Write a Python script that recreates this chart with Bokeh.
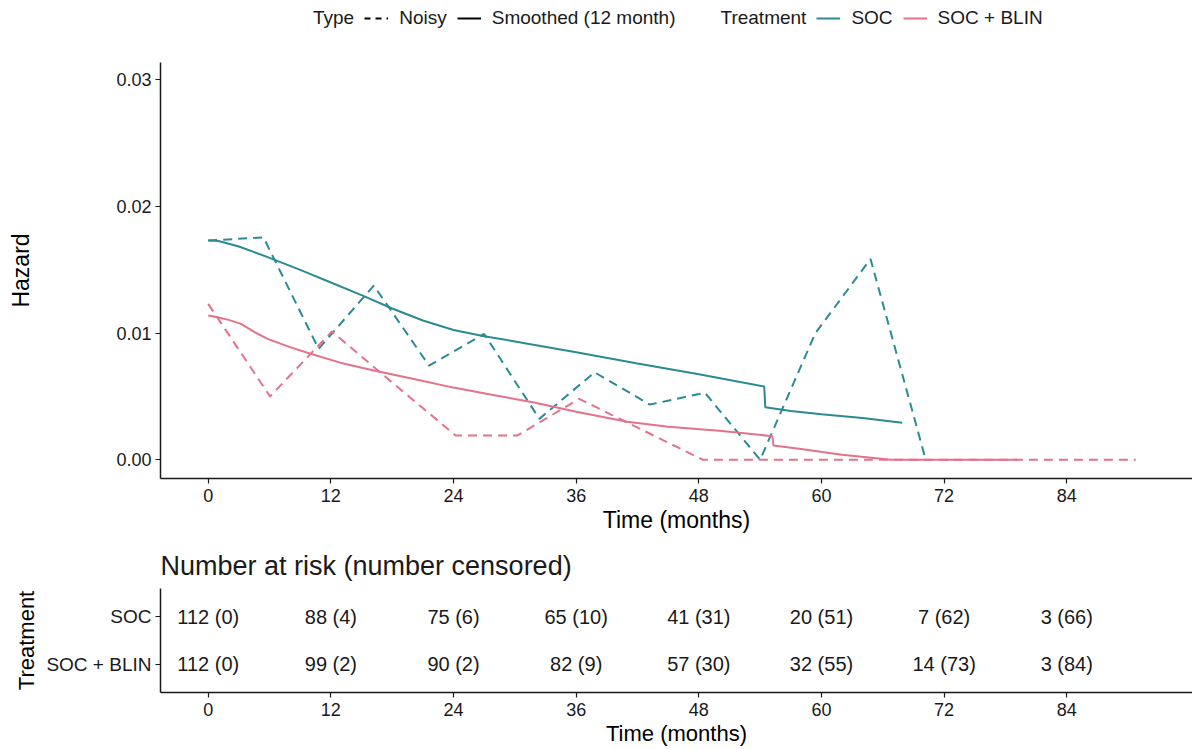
from bokeh.plotting import figure
from bokeh.models import Range1d, FixedTicker, Legend, LegendItem, FactorRange, NumeralTickFormatter
from bokeh.layouts import column
from bokeh.embed import file_html
from bokeh.resources import INLINE
from bokeh.core.properties import value

FONT = "Liberation Sans"
TEAL = "#2B8A92"
PINK = "#E3728A"
INK = "#1A1A1A"

# ---------------- data ----------------
treatments = ["SOC", "SOC + BLIN"]

soc_noisy_t = [0, 5.4, 10.8, 16.2, 21.6, 27.0, 32.4, 37.8, 43.2, 48.6, 54.0, 59.4, 64.8, 70.2]
soc_noisy_h = [0.01731, 0.01757, 0.00876, 0.01376, 0.00744, 0.00994, 0.00323, 0.00691,
               0.00436, 0.00529, 0.0, 0.0100, 0.01586, 0.0]

blin_noisy_t = [0, 6.05, 12.1, 18.15, 24.2, 30.25, 36.3, 42.35, 48.4, 54.45, 60.5, 66.55,
                72.6, 78.65, 84.7, 90.75]
blin_noisy_h = [0.01231, 0.0050, 0.01013, 0.0060, 0.00192, 0.00192, 0.00481, 0.0024,
                0.0, 0.0, 0.0, 0.0, 0.0, 0.0, 0.0, 0.0]

soc_smooth_t = [0, 1, 3, 6, 9, 12, 15, 18, 21, 24, 27, 30, 36, 42, 48, 54.4, 54.5, 57, 60, 64, 67.9]
soc_smooth_h = [0.01731, 0.01728, 0.01685, 0.01595, 0.0150, 0.0140, 0.0130, 0.01195, 0.0110,
                0.01025, 0.00975, 0.00935, 0.0085, 0.0076, 0.00675, 0.00578, 0.00415, 0.00385,
                0.00360, 0.00330, 0.00292]

blin_smooth_t = [0, 0.9, 2, 3.2, 4.5, 5.8, 8, 10, 13, 16.2, 20, 24, 28, 32, 36, 41, 45, 50,
                 55.2, 55.3, 58, 62, 66.8, 79.2]
blin_smooth_h = [0.01139, 0.01126, 0.01105, 0.01073, 0.0101, 0.00955, 0.0089, 0.00837, 0.00765,
                 0.00705, 0.0064, 0.0057, 0.0051, 0.0045, 0.0038, 0.0030, 0.0026, 0.0023,
                 0.00186, 0.00113, 0.00085, 0.0004, 0.0, 0.0]

month_ticks = [0, 12, 24, 36, 48, 60, 72, 84]
hazard_ticks = [0.0, 0.01, 0.02, 0.03]

soc_at_risk = [112, 88, 75, 65, 41, 20, 7, 3]
soc_censored = [0, 4, 6, 10, 31, 51, 62, 66]
blin_at_risk = [112, 99, 90, 82, 57, 32, 14, 3]
blin_censored = [0, 2, 2, 9, 30, 55, 73, 84]

X_START, X_END = -4.67, 96.3


def style_axes(p):
    p.grid.visible = False
    p.outline_line_color = None
    for ax in p.axis:
        ax.axis_line_color = INK
        ax.axis_line_width = 1.5
        ax.major_tick_line_color = INK
        ax.major_tick_line_width = 1.2
        ax.major_tick_in = 0
        ax.major_tick_out = 5
        ax.minor_tick_line_color = None
        ax.major_label_text_font = FONT
        ax.major_label_text_font_size = "18px"
        ax.major_label_text_color = INK
        ax.axis_label_text_font = FONT
        ax.axis_label_text_font_size = "23px"
        ax.axis_label_text_font_style = "normal"
        ax.axis_label_text_color = "black"


# ---------------- legend strip ----------------
lf = figure(width=1192, height=36, x_range=Range1d(0, 1), y_range=Range1d(0, 1),
            output_backend="svg", toolbar_location=None, x_axis_type=None, y_axis_type=None,
            min_border_left=160, min_border_right=0, min_border_top=0, min_border_bottom=0)
lf.outline_line_color = None
lf.grid.visible = False
# legend key renderers: kept outside the visible range so only their legend keys show
off_x, off_y = [5, 6], [5, 5]
r_type = lf.line(x=off_x, y=off_y, line_alpha=0)
r_noisy = lf.line(x=off_x, y=off_y, line_color="black", line_width=2, line_dash="6 5")
r_smooth = lf.line(x=off_x, y=off_y, line_color="black", line_width=2)
r_treat = lf.line(x=off_x, y=off_y, line_alpha=0)
r_soc = lf.line(x=off_x, y=off_y, line_color=TEAL, line_width=2)
r_blin = lf.line(x=off_x, y=off_y, line_color=PINK, line_width=2)
legend = Legend(items=[
    LegendItem(label="Type", renderers=[r_type]),
    LegendItem(label="Noisy", renderers=[r_noisy]),
    LegendItem(label="Smoothed (12 month)", renderers=[r_smooth]),
    LegendItem(label="Treatment", renderers=[r_treat]),
    LegendItem(label=treatments[0], renderers=[r_soc]),
    LegendItem(label=treatments[1], renderers=[r_blin]),
], orientation="horizontal", location=(118, 7), border_line_color=None,
    background_fill_alpha=0, glyph_width=24, label_standoff=11, spacing=10,
    padding=0, margin=0, label_text_font=FONT, label_text_font_size="19px",
    label_text_color=INK)
lf.add_layout(legend)

# ---------------- main hazard plot ----------------
p = figure(width=1192, height=504, x_range=Range1d(X_START, X_END),
           y_range=Range1d(-0.00148, 0.03138), output_backend="svg", toolbar_location=None,
           min_border_left=160, min_border_right=0, min_border_top=26, min_border_bottom=62)
p.line(soc_noisy_t, soc_noisy_h, line_color=TEAL, line_width=2, line_dash="9 6")
p.line(blin_noisy_t, blin_noisy_h, line_color=PINK, line_width=2, line_dash="9 6")
p.line(soc_smooth_t, soc_smooth_h, line_color=TEAL, line_width=2)
p.line(blin_smooth_t, blin_smooth_h, line_color=PINK, line_width=2)
p.xaxis.ticker = FixedTicker(ticks=month_ticks)
p.yaxis.ticker = FixedTicker(ticks=hazard_ticks)
p.yaxis.formatter = NumeralTickFormatter(format="0.00")
p.xaxis.axis_label = "Time (months)"
p.yaxis.axis_label = "Hazard"
style_axes(p)
p.xaxis.major_label_standoff = 5
p.xaxis.axis_label_standoff = 2
p.yaxis.major_label_standoff = 4
p.yaxis.axis_label_standoff = 79

# ---------------- risk table ----------------
q = figure(width=1192, height=209, x_range=Range1d(X_START, X_END),
           y_range=FactorRange(factors=[treatments[1], treatments[0]], range_padding=0.1),
           output_backend="svg", toolbar_location=None,
           min_border_left=160, min_border_right=0, min_border_top=47, min_border_bottom=57)
soc_lbl = [f"{a} ({c})" for a, c in zip(soc_at_risk, soc_censored)]
blin_lbl = [f"{a} ({c})" for a, c in zip(blin_at_risk, blin_censored)]
for lbls, name in ((soc_lbl, treatments[0]), (blin_lbl, treatments[1])):
    q.text(x=month_ticks, y=[name] * len(month_ticks), text=lbls, text_align="center",
           text_baseline="middle", text_font=value(FONT), text_font_size="20px",
           text_color=INK)
q.xaxis.ticker = FixedTicker(ticks=month_ticks)
q.xaxis.axis_label = "Time (months)"
q.yaxis.axis_label = "Treatment"
style_axes(q)
q.yaxis.major_label_text_font_size = "19px"
q.yaxis.axis_label_text_font_size = "22px"
q.xaxis.axis_label_text_font_size = "22px"
q.xaxis.major_label_standoff = 5
q.xaxis.axis_label_standoff = 2
q.yaxis.major_label_standoff = 4
q.yaxis.axis_label_standoff = 4
q.title.text = "Number at risk (number censored)"
q.title.align = "left"
q.title.text_font = FONT
q.title.text_font_size = "27px"
q.title.text_font_style = "normal"
q.title.text_color = INK
q.title.standoff = 16

layout = column(lf, p, q)
open("out.html", "w").write(file_html(layout, INLINE))
